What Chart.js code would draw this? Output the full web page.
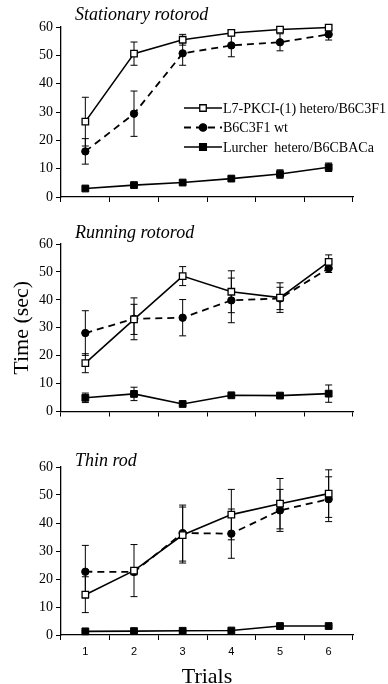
<!DOCTYPE html>
<html>
<head>
<meta charset="utf-8">
<script src="https://cdn.jsdelivr.net/npm/chart.js@4.4.0/dist/chart.umd.min.js"></script>
<style>
  html, body { margin: 0; padding: 0; background: #fff; }
  body { position: relative; width: 388px; height: 684px; overflow: hidden; }
  canvas { position: absolute; left: 0; }
</style>
</head>
<body>
<canvas id="stationary" width="388" height="210" style="top:0px"></canvas>
<canvas id="running" width="388" height="210" style="top:215px"></canvas>
<canvas id="thin" width="388" height="244" style="top:440px"></canvas>
<script>
const trials = ['1', '2', '3', '4', '5', '6'];
const yTickValues = [0, 10, 20, 30, 40, 50, 60];
const seriesNames = ['L7-PKCI-(1) hetero/B6C3F1', 'B6C3F1 wt', 'Lurcher  hetero/B6CBACa'];
const panelTitles = ['Stationary rotorod', 'Running rotorod', 'Thin rod'];

// Stationary rotorod
const statL7 = [26.6, 50.6, 55.5, 57.9, 59.1, 59.8];
const statL7Err = [8.6, 4.1, 1.9, 1.0, 0.6, 0.8];
const statWt = [16.1, 29.4, 50.7, 53.5, 54.6, 57.4];
const statWtErr = [4.5, 8.0, 4.2, 4.0, 3.0, 2.0];
const statLur = [3.0, 4.2, 5.1, 6.5, 8.1, 10.5];
const statLurErr = [0.5, 0.5, 0.6, 0.8, 1.5, 1.5];

// Running rotorod
const runL7 = [17.3, 33.0, 48.5, 42.9, 40.8, 53.6];
const runL7Err = [3.4, 5.4, 3.4, 7.5, 5.3, 2.5];
const runWt = [28.1, 33.2, 33.6, 39.8, 40.5, 51.3];
const runWtErr = [8.0, 7.5, 6.5, 8.0, 4.0, 1.5];
const runLur = [4.9, 6.3, 2.7, 5.8, 5.7, 6.4];
const runLurErr = [1.7, 2.4, 0.5, 0.5, 0.5, 3.1];

// Thin rod
const thinL7 = [14.4, 23.0, 35.7, 43.0, 46.9, 50.5];
const thinL7Err = [6.4, 9.3, 10.0, 9.0, 9.0, 8.5];
const thinWt = [22.6, 22.5, 36.4, 36.2, 44.5, 48.5];
const thinWtErr = [9.4, 1.0, 10.0, 8.8, 7.5, 8.0];
const thinLur = [1.3, 1.4, 1.5, 1.6, 3.2, 3.2];
const thinLurErr = [0.3, 0.3, 0.3, 0.3, 0.3, 0.3];

Chart.defaults.font.family = '"Liberation Serif", "Times New Roman", serif';
Chart.defaults.color = '#000';

// vertical error bars with caps, drawn under the markers
const errorBars = {
  id: 'errorBars',
  beforeDatasetsDraw(chart) {
    const ctx = chart.ctx;
    const y = chart.scales.y;
    ctx.save();
    ctx.strokeStyle = '#000';
    ctx.lineWidth = 1;
    chart.data.datasets.forEach((ds, i) => {
      const meta = chart.getDatasetMeta(i);
      ds.errors.forEach((e, j) => {
        const pt = meta.data[j];
        const top = y.getPixelForValue(ds.data[j] + e);
        const bot = y.getPixelForValue(ds.data[j] - e);
        ctx.beginPath();
        ctx.moveTo(pt.x, top); ctx.lineTo(pt.x, bot);
        ctx.moveTo(pt.x - 3.5, top); ctx.lineTo(pt.x + 3.5, top);
        ctx.moveTo(pt.x - 3.5, bot); ctx.lineTo(pt.x + 3.5, bot);
        ctx.stroke();
      });
    });
    ctx.restore();
  }
};

// italic panel title sitting just above the plot
const panelTitle = {
  id: 'panelTitle',
  afterDraw(chart, args, opts) {
    const { ctx, chartArea } = chart;
    ctx.save();
    ctx.font = 'italic 18px "Liberation Serif"';
    ctx.fillStyle = '#000';
    ctx.textBaseline = 'alphabetic';
    ctx.fillText(opts.text, chartArea.left + 14, chartArea.top - opts.lift);
    ctx.restore();
  }
};

// legend with line sample + marker, like the figure
const sampleLegend = {
  id: 'sampleLegend',
  afterDraw(chart, args, opts) {
    if (!opts.show) return;
    const ctx = chart.ctx;
    ctx.save();
    chart.data.datasets.forEach((ds, i) => {
      const y = opts.y + i * opts.gap;
      ctx.strokeStyle = '#000';
      ctx.lineWidth = ds.borderWidth;
      ctx.setLineDash(ds.borderDash || []);
      ctx.beginPath();
      ctx.moveTo(opts.x, y);
      ctx.lineTo(opts.x + 38, y);
      ctx.stroke();
      ctx.setLineDash([]);
      ctx.lineWidth = 1.3;
      ctx.fillStyle = ds.pointBackgroundColor;
      Chart.helpers.drawPoint(ctx, {
        pointStyle: ds.pointStyle, radius: ds.pointRadius, borderWidth: 1.3, rotation: 0
      }, opts.x + 19, y);
      ctx.fillStyle = '#000';
      ctx.font = '14px "Liberation Serif"';
      ctx.textBaseline = 'middle';
      ctx.fillText(ds.label, opts.x + 39, y + 1);
    });
    ctx.restore();
  }
};

function makePanel(id, p) {
  const datasets = [
    {
      label: seriesNames[0], data: p.l7, errors: p.l7Err,
      borderColor: '#000', borderWidth: 1.6,
      pointStyle: 'rect', pointRadius: 4.6, pointBorderWidth: 1.3,
      pointBackgroundColor: '#fff', pointBorderColor: '#000'
    },
    {
      label: seriesNames[1], data: p.wt, errors: p.wtErr,
      borderColor: '#000', borderWidth: 1.8, borderDash: [7, 5],
      pointStyle: 'circle', pointRadius: 3.7, pointBorderWidth: 1,
      pointBackgroundColor: '#000', pointBorderColor: '#000'
    },
    {
      label: seriesNames[2], data: p.lur, errors: p.lurErr,
      borderColor: '#000', borderWidth: 1.6,
      pointStyle: 'rect', pointRadius: 4.8, pointBorderWidth: 1,
      pointBackgroundColor: '#000', pointBorderColor: '#000'
    }
  ];
  datasets.forEach(d => { d.tension = 0; d.clip = false; d.fill = false; });

  return new Chart(document.getElementById(id), {
    type: 'line',
    data: { labels: trials, datasets },
    plugins: [errorBars, panelTitle, sampleLegend],
    options: {
      responsive: false,
      animation: false,
      events: [],
      layout: { padding: { top: p.padTop, right: 35, bottom: 0, left: 0 } },
      plugins: {
        legend: { display: false },
        tooltip: { enabled: false },
        panelTitle: { text: p.title, lift: p.titleLift },
        sampleLegend: { show: !!p.legend, x: 184, y: 108, gap: 19.5 }
      },
      scales: {
        x: {
          type: 'category',
          offset: true,
          grid: { offset: true, drawOnChartArea: false, drawTicks: true, tickLength: 5, color: '#000', lineWidth: 1 },
          border: { color: '#000', width: 1.3 },
          ticks: {
            display: !!p.showX, padding: 5, color: '#000',
            font: { family: '"Liberation Sans", Arial, sans-serif', size: 11 }
          },
          title: {
            display: !!p.showX, text: 'Trials', color: '#000',
            font: { size: 22, lineHeight: 0.6 }, padding: 0
          },
          afterFit(s) { s.height = p.xHeight; s.paddingLeft = 0; s.paddingRight = 0; }
        },
        y: {
          min: 0, max: 60,
          afterBuildTicks(s) { s.ticks = yTickValues.map(v => ({ value: v })); },
          grid: { drawOnChartArea: false, drawTicks: true, tickLength: 5, color: '#000', lineWidth: 1 },
          border: { color: '#000', width: 1.3 },
          ticks: { padding: 3, color: '#000', font: { size: 14 } },
          title: {
            display: !!p.yTitle, text: 'Time (sec)', color: '#000',
            font: { size: 22 }, padding: { top: 9, bottom: 0 }
          },
          afterFit(s) { s.width = 61; s.paddingTop = 0; s.paddingBottom = 0; }
        }
      }
    }
  });
}

makePanel('stationary', {
  title: panelTitles[0], titleLift: 7, padTop: 27, xHeight: 13, legend: true,
  l7: statL7, l7Err: statL7Err, wt: statWt, wtErr: statWtErr, lur: statLur, lurErr: statLurErr
});
makePanel('running', {
  title: panelTitles[1], titleLift: 6, padTop: 29, xHeight: 13.5, yTitle: true,
  l7: runL7, l7Err: runL7Err, wt: runWt, wtErr: runWtErr, lur: runLur, lurErr: runLurErr
});
makePanel('thin', {
  title: panelTitles[2], titleLift: 1.5, padTop: 27, xHeight: 49, showX: true,
  l7: thinL7, l7Err: thinL7Err, wt: thinWt, wtErr: thinWtErr, lur: thinLur, lurErr: thinLurErr
});
</script>
</body>
</html>
